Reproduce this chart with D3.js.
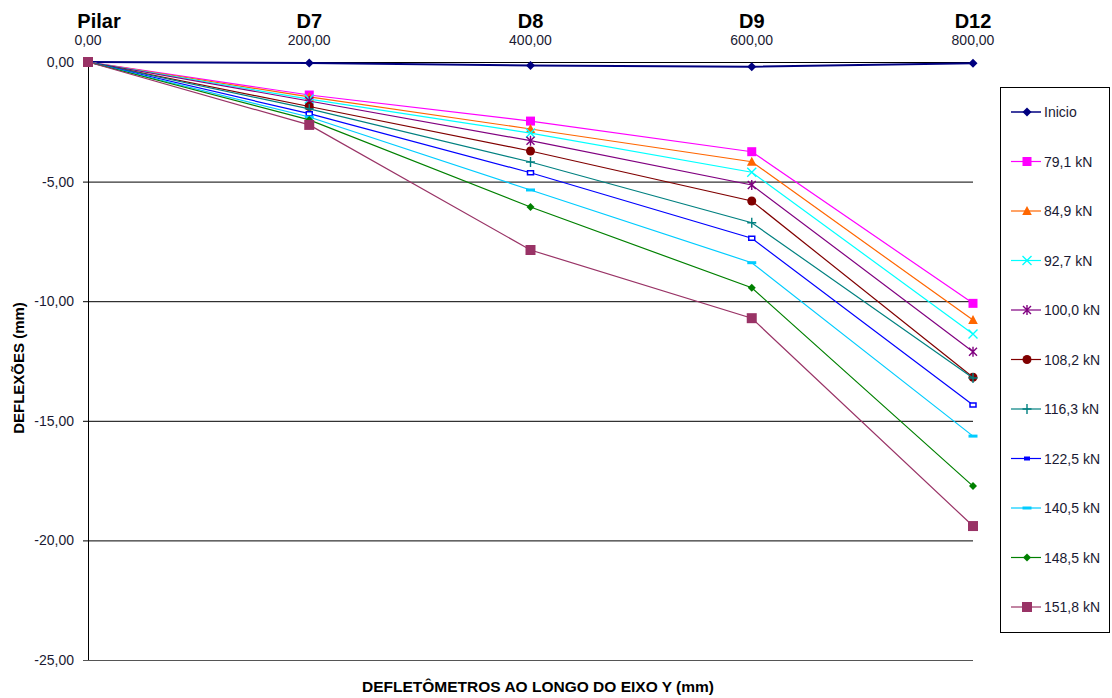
<!DOCTYPE html>
<html>
<head>
<meta charset="utf-8">
<script src="https://cdn.jsdelivr.net/npm/d3@7"></script>
<style>
  html, body { margin: 0; padding: 0; background: #fff; }
  svg { display: block; font-family: "Liberation Sans", Arial, sans-serif; }
</style>
</head>
<body>
<svg id="chart" width="1112" height="698"></svg>
<script>
// ---- data ----
const positions = [0, 200, 400, 600, 800];
const sensorNames = ["Pilar", "D7", "D8", "D9", "D12"];
const xTickLabels = ["0,00", "200,00", "400,00", "600,00", "800,00"];
const yTicks = [0, -5, -10, -15, -20, -25];
const yTickLabels = ["0,00", "-5,00", "-10,00", "-15,00", "-20,00", "-25,00"];

const seriesNames = ["Inicio", "79,1 kN", "84,9 kN", "92,7 kN", "100,0 kN", "108,2 kN",
                     "116,3 kN", "122,5 kN", "140,5 kN", "148,5 kN", "151,8 kN"];
const inicio = [0, -0.04, -0.15, -0.20, -0.05];
const s79_1  = [0, -1.38, -2.47, -3.75, -10.09];
const s84_9  = [0, -1.46, -2.80, -4.17, -10.79];
const s92_7  = [0, -1.55, -2.97, -4.61, -11.37];
const s100_0 = [0, -1.63, -3.29, -5.14, -12.11];
const s108_2 = [0, -1.86, -3.72, -5.81, -13.18];
const s116_3 = [0, -1.96, -4.18, -6.72, -13.21];
const s122_5 = [0, -2.16, -4.63, -7.37, -14.34];
const s140_5 = [0, -2.30, -5.35, -8.39, -15.64];
const s148_5 = [0, -2.42, -6.06, -9.44, -17.73];
const s151_8 = [0, -2.63, -7.86, -10.71, -19.40];
const seriesValues = [inicio, s79_1, s84_9, s92_7, s100_0, s108_2, s116_3, s122_5, s140_5, s148_5, s151_8];

// ---- styles ----
const colors = ["#000080", "#FF00FF", "#FF6600", "#00FFFF", "#800080", "#800000",
                "#008080", "#0000FF", "#00CCFF", "#008000", "#993366"];
const markers = ["diamond", "square", "triangle", "x", "star", "circle",
                 "plus", "smallsq", "dash", "sdiamond", "square2"];

function markerPath(type) {
  switch (type) {
    case "diamond":  return "M0,-4.5L4.5,0L0,4.5L-4.5,0Z";
    case "sdiamond": return "M0,-4L4,0L0,4L-4,0Z";
    case "square":   return "M-4.5,-4.5H4.5V4.5H-4.5Z";
    case "square2":  return "M-5,-5H5V5H-5Z";
    case "triangle": return "M0,-5L4.8,4L-4.8,4Z";
    case "x":        return "M-4.5,-4.5L4.5,4.5M4.5,-4.5L-4.5,4.5";
    case "star":     return "M-4,-4L4,4M4,-4L-4,4M0,-5V5";
    case "plus":     return "M-4.5,0H4.5M0,-5V5";
    case "circle":   return "M4.5,0A4.5,4.5 0 1,1 -4.5,0A4.5,4.5 0 1,1 4.5,0Z";
    case "smallsq":  return "M-3,-2H3V2H-3Z";
    case "dash":     return "M-4.5,-1.5H4.5V1.5H-4.5Z";
  }
}
function isStroke(type) { return type === "x" || type === "star" || type === "plus"; }

const svg = d3.select("#chart");
const x = d3.scaleLinear().domain([0, 800]).range([88, 973]);
const y = d3.scaleLinear().domain([-25, 0]).range([660, 62]);

// gridlines
svg.append("g").selectAll("line").data(yTicks).join("line")
  .attr("x1", 83).attr("x2", x(800))
  .attr("y1", d => y(d) + 0.5).attr("y2", d => y(d) + 0.5)
  .attr("stroke", (d) => d === -25 ? "#555" : "#000").attr("stroke-width", 1);

// y axis line
svg.append("line").attr("x1", 88.5).attr("x2", 88.5).attr("y1", y(0)).attr("y2", y(-25))
  .attr("stroke", "#000");

// y tick labels
svg.append("g").selectAll("text").data(yTicks).join("text")
  .attr("x", 74).attr("y", d => y(d) + 5)
  .attr("text-anchor", "end").attr("font-size", 14).attr("fill", "#1a1a33")
  .text((d, i) => yTickLabels[i]);

// top x labels
const topLabels = svg.append("g");
topLabels.selectAll("text.name").data(positions).join("text").attr("class", "name")
  .attr("x", (d, i) => x(d) + (i === 0 ? 11 : 0)).attr("y", 28).attr("text-anchor", "middle")
  .attr("font-size", 20).attr("font-weight", "bold").attr("fill", "#000")
  .text((d, i) => sensorNames[i]);
topLabels.selectAll("text.val").data(positions).join("text").attr("class", "val")
  .attr("x", d => x(d)).attr("y", 45).attr("text-anchor", "middle")
  .attr("font-size", 14).attr("fill", "#1a1a33")
  .text((d, i) => xTickLabels[i]);

// axis titles
svg.append("text").attr("transform", "translate(24,368) rotate(-90)")
  .attr("text-anchor", "middle").attr("font-size", 15).attr("font-weight", "bold")
  .text("DEFLEXÕES (mm)");
svg.append("text").attr("x", 538).attr("y", 692)
  .attr("text-anchor", "middle").attr("font-size", 15.5).attr("font-weight", "bold")
  .text("DEFLETÔMETROS AO LONGO DO EIXO Y (mm)");

// series
const line = d3.line().x((d, i) => x(positions[i])).y(d => y(d));
seriesValues.forEach((vals, si) => {
  const g = svg.append("g");
  g.append("path").attr("d", line(vals)).attr("fill", "none")
    .attr("stroke", colors[si]).attr("stroke-width", si === 0 ? 2 : 1.2);
  const m = markers[si];
  g.selectAll("path.m").data(vals).join("path").attr("class", "m")
    .attr("transform", (d, i) => `translate(${x(positions[i])},${y(d)})`)
    .attr("d", markerPath(m))
    .attr("fill", isStroke(m) ? "none" : (m === "smallsq" ? "#fff" : colors[si]))
    .attr("stroke", colors[si])
    .attr("stroke-width", isStroke(m) ? 1.4 : (m === "smallsq" ? 1.5 : 0));
});

// legend
const lg = svg.append("g");
lg.append("rect").attr("x", 1000.5).attr("y", 87.5).attr("width", 109).attr("height", 545)
  .attr("fill", "#fff").attr("stroke", "#000").attr("stroke-width", 1);
seriesNames.forEach((name, si) => {
  const cy = 112 + si * 49.5;
  lg.append("line").attr("x1", 1011).attr("x2", 1041).attr("y1", cy).attr("y2", cy)
    .attr("stroke", colors[si]).attr("stroke-width", si === 0 ? 1.5 : 1.2);
  const m = markers[si];
  lg.append("path").attr("transform", `translate(1027,${cy})`).attr("d", markerPath(m))
    .attr("fill", isStroke(m) ? "none" : colors[si])
    .attr("stroke", colors[si]).attr("stroke-width", isStroke(m) ? 1.4 : 0);
  lg.append("text").attr("x", 1044).attr("y", cy + 5).attr("font-size", 14)
    .attr("fill", "#1a1a33").text(name);
});
</script>
</body>
</html>
